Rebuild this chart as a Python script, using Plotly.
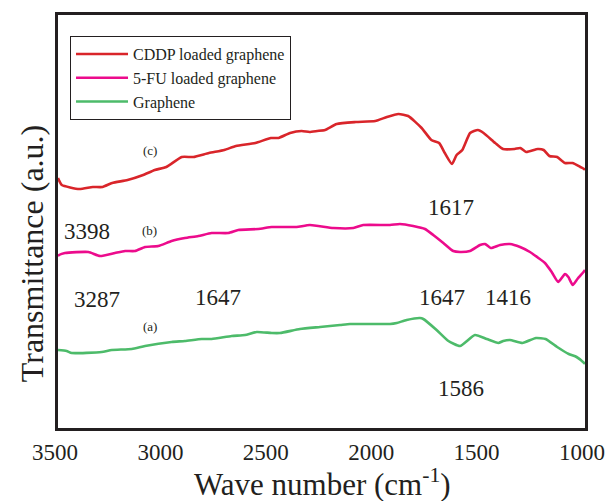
import plotly.graph_objects as go

# ---- data (wavenumber in cm^-1, transmittance in arbitrary units) ----
cddp_wn = [3500, 3496, 3482, 3399, 3335, 3289, 3243, 3170, 3096, 3041, 2986, 2913, 2858, 2784, 2711,
           2656, 2564, 2490, 2454, 2399, 2344, 2307, 2270, 2233, 2178, 2087, 1995, 1940, 1885, 1839,
           1775, 1729, 1692, 1665, 1631, 1609, 1582, 1545, 1508, 1481, 1426, 1389, 1334, 1307, 1279,
           1224, 1196, 1169, 1132, 1095, 1059, 1022, 1004, 1000]
cddp_t = [250, 248, 243, 239, 241, 241, 245, 248, 253, 258, 261, 271, 271, 275, 278,
          282, 285, 290, 290, 295, 297, 296, 297, 298, 304, 306, 307, 311, 314, 312,
          300, 288, 285, 275, 264, 273, 278, 295, 298, 295, 285, 279, 279, 280, 276,
          279, 278, 272, 271, 265, 265, 261, 259, 258]

fu_wn = [3500, 3495, 3467, 3356, 3301, 3230, 3182, 3135, 3087, 3024, 2961, 2898, 2834, 2771, 2692,
         2645, 2550, 2486, 2423, 2368, 2305, 2194, 2099, 2052, 1925, 1878, 1815, 1759, 1720, 1672,
         1625, 1593, 1546, 1498, 1474, 1447, 1403, 1356, 1308, 1261, 1221, 1190, 1158, 1127, 1095,
         1079, 1058, 1036, 1007, 1000]
fu_t = [172, 173, 175, 176, 172, 175, 177, 177, 181, 182, 187, 190, 192, 195, 195,
        198, 199, 201, 201, 201, 203, 200, 200, 203, 203, 204, 202, 199, 193, 185,
        177, 176, 177, 183, 184, 180, 183, 184, 181, 176, 170, 165, 156, 146, 154,
        151, 143, 149, 156, 158]

gr_wn = [3500, 3459, 3435, 3293, 3245, 3150, 3087, 2961, 2898, 2818, 2771, 2676, 2613, 2557, 2486,
         2447, 2352, 2257, 2162, 2115, 2020, 1925, 1893, 1846, 1783, 1767, 1704, 1648, 1593, 1522,
         1466, 1411, 1388, 1356, 1297, 1233, 1187, 1132, 1077, 1040, 1004, 1000]
gr_t = [78, 77, 75, 76, 78, 79, 82, 86, 87, 89, 89, 92, 93, 96, 95,
        95, 99, 101, 103, 104, 104, 104, 105, 108, 110, 109, 98, 87, 82, 93,
        89, 85, 87, 88, 85, 90, 89, 81, 74, 71, 65, 64]

series_names = ["CDDP loaded graphene", "5-FU loaded graphene", "Graphene"]
series_colors = ["#d9252a", "#ec0b8c", "#4dbb6a"]

x_ticks = [3500, 3000, 2500, 2000, 1500, 1000]
x_ticktext = ["3500", "3000", "2500", "2000", "1500", "1000"]

# curve labels and peak labels: (text, wavenumber, transmittance)
curve_labels = [("(c)", 3064, 278), ("(b)", 3064, 198), ("(a)", 3064, 102)]
peak_labels = [("3398", 3362, 197), ("1617", 1636, 221), ("3287", 3315, 129),
               ("1647", 2741, 131), ("1647", 1678, 131), ("1416", 1365, 131),
               ("1586", 1588, 40)]

FONT = "Liberation Serif"
INK = "#231f20"

fig = go.Figure()
for name, xs, ys, col in zip(series_names, [cddp_wn, fu_wn, gr_wn], [cddp_t, fu_t, gr_t], series_colors):
    fig.add_trace(go.Scatter(x=xs, y=ys, mode="lines", name=name,
                             line=dict(color=col, width=2.6, shape="spline", smoothing=0.5)))

for txt, xv, yv in curve_labels:
    fig.add_annotation(x=xv, y=yv, text=txt, showarrow=False,
                       font=dict(family=FONT, size=13, color=INK))
for txt, xv, yv in peak_labels:
    fig.add_annotation(x=xv, y=yv, text=txt, showarrow=False,
                       font=dict(family=FONT, size=23, color=INK))

# axis titles
fig.add_annotation(xref="paper", yref="paper", x=0.501, y=-0.183, text="Wave number (cm<sup>-1</sup>)",
                   showarrow=False, yanchor="bottom", font=dict(family=FONT, size=31, color=INK))
fig.add_annotation(xref="paper", yref="paper", x=-0.05, y=0.4225, text="Transmittance (a.u.)",
                   textangle=-90, showarrow=False, xanchor="center", yanchor="middle",
                   font=dict(family=FONT, size=32, color=INK))

fig.update_layout(
    width=607, height=501,
    margin=dict(l=58, r=22, t=15, b=73, autoexpand=False),
    paper_bgcolor="white", plot_bgcolor="white",
    showlegend=True,
    legend=dict(x=0.0228, y=0.949, xanchor="left", yanchor="top",
                bordercolor=INK, borderwidth=1, bgcolor="white",
                font=dict(family=FONT, size=16, color=INK),
                tracegroupgap=0, itemwidth=52),
)
fig.update_xaxes(range=[3500, 1000], tickvals=x_ticks, ticktext=x_ticktext,
                 showgrid=False, zeroline=False, showline=True, mirror=True,
                 linecolor=INK, linewidth=3, ticks="outside", ticklen=1,
                 tickcolor="rgba(0,0,0,0)", ticklabeloverflow="allow", automargin=False,
                 ticklabelshift=3,
                 tickfont=dict(family=FONT, size=23, color=INK))
fig.update_yaxes(range=[0, 413], showticklabels=False, showgrid=False, zeroline=False,
                 showline=True, mirror=True, linecolor=INK, linewidth=3, ticks="")

fig.write_html("out.html")
